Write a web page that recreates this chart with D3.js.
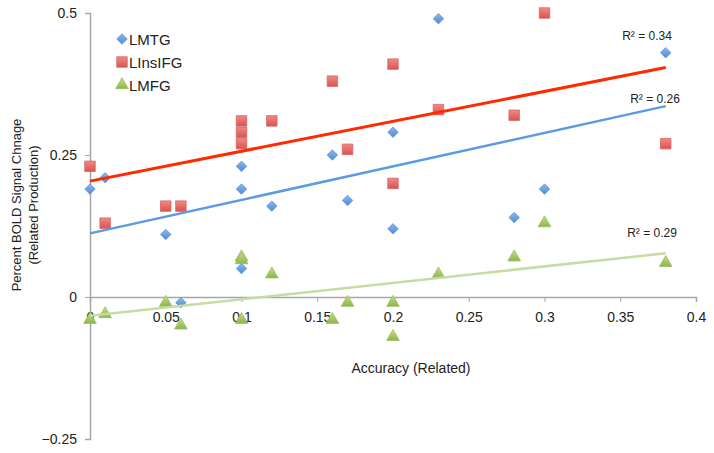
<!DOCTYPE html>
<html>
<head>
<meta charset="utf-8">
<script src="https://cdn.jsdelivr.net/npm/d3@7"></script>
<style>
  body { margin: 0; background: #fff; }
  svg { display: block; font-family: "Liberation Sans", Arial, sans-serif; }
</style>
</head>
<body>
<svg id="chart" width="714" height="453"></svg>
<script>
// ---- data ----
const seriesNames = ["LMTG", "LInsIFG", "LMFG"];
const lmtgX = [0, 0.01, 0.05, 0.06, 0.1, 0.1, 0.1, 0.12, 0.16, 0.17, 0.2, 0.2, 0.23, 0.28, 0.3, 0.38];
const lmtgY = [0.19, 0.21, 0.11, -0.01, 0.23, 0.19, 0.05, 0.16, 0.25, 0.17, 0.29, 0.12, 0.49, 0.14, 0.19, 0.43];
const linsX = [0, 0.01, 0.05, 0.06, 0.1, 0.1, 0.1, 0.12, 0.16, 0.17, 0.2, 0.2, 0.23, 0.28, 0.3, 0.38];
const linsY = [0.23, 0.13, 0.16, 0.16, 0.31, 0.29, 0.27, 0.31, 0.38, 0.26, 0.41, 0.20, 0.33, 0.32, 0.50, 0.27];
const lmfgX = [0, 0.01, 0.05, 0.06, 0.1, 0.1, 0.1, 0.12, 0.16, 0.17, 0.2, 0.2, 0.23, 0.28, 0.3, 0.38];
const lmfgY = [-0.04, -0.03, -0.01, -0.05, 0.07, 0.065, -0.04, 0.04, -0.04, -0.01, -0.01, -0.07, 0.04, 0.07, 0.13, 0.06];
// trendline endpoints (x from 0 to 0.38)
const trendX = [0, 0.38];
const trendLMTG = [0.112, 0.336];
const trendLIns = [0.204, 0.404];
const trendLMFG = [-0.033, 0.077];
const r2Labels = ["R² = 0.26", "R² = 0.34", "R² = 0.29"];
const xTicks = [0, 0.05, 0.1, 0.15, 0.2, 0.25, 0.3, 0.35, 0.4];
const yTicks = [-0.25, 0, 0.25, 0.5];

// ---- layout ----
const svg = d3.select("#chart");
const x = d3.scaleLinear().domain([0, 0.4]).range([90, 696]);
const y = d3.scaleLinear().domain([-0.25, 0.5]).range([439, 13]);

const axisColor = "#a6a6a6";

// x axis at y=0
const gx = svg.append("g").attr("transform", `translate(0,${y(0)})`)
  .call(d3.axisBottom(x).tickValues(xTicks).tickFormat(d3.format("")).tickSizeOuter(0).tickSize(5).tickPadding(10));
// y axis
const gy = svg.append("g").attr("transform", `translate(${x(0)},0)`)
  .call(d3.axisLeft(y).tickValues(yTicks).tickFormat(d3.format("")).tickSizeOuter(0).tickSize(5).tickPadding(8));
[gx, gy].forEach(g => {
  g.select(".domain").attr("stroke", axisColor).attr("stroke-width", 1.5);
  g.selectAll(".tick line").attr("stroke", axisColor);
  g.selectAll(".tick text").attr("fill", "#222").attr("font-size", 14)
    .attr("font-family", "Liberation Sans, Arial, sans-serif");
});

// defs gradients
const defs = svg.append("defs");
function grad(id, c1, c2) {
  const g = defs.append("linearGradient").attr("id", id).attr("x1", 0).attr("y1", 0).attr("x2", 0).attr("y2", 1);
  g.append("stop").attr("offset", "0%").attr("stop-color", c1);
  g.append("stop").attr("offset", "100%").attr("stop-color", c2);
}
grad("gBlue", "#8db8ec", "#4f8bd2");
grad("gRed", "#f08a87", "#d9534f");
grad("gGreen", "#c5de8c", "#8db54a");

const sym = {
  diamond: d3.symbol().type(d3.symbolDiamond2).size(70),
  square: d3.symbol().type(d3.symbolSquare).size(110),
  triangle: d3.symbol().type(d3.symbolTriangle).size(70)
};

// trendlines
const line = d3.line().x(d => x(d[0])).y(d => y(d[1]));
const trends = [
  { vals: trendLIns, color: "#ff2a00", w: 3 },
  { vals: trendLMTG, color: "#5b9be0", w: 2.5 },
  { vals: trendLMFG, color: "#c6dca4", w: 2.5 }
];

// points
function drawPoints(xs, ys, s, fill, stroke) {
  svg.append("g").selectAll("path").data(xs.map((v, i) => [v, ys[i]])).join("path")
    .attr("d", s)
    .attr("transform", d => `translate(${x(d[0])},${y(d[1])})`)
    .attr("fill", fill).attr("stroke", stroke).attr("stroke-width", 0.8);
}
drawPoints(lmfgX, lmfgY, sym.triangle, "url(#gGreen)", "#9dbf63");
drawPoints(linsX, linsY, sym.square, "url(#gRed)", "#d96562");
drawPoints(lmtgX, lmtgY, sym.diamond, "url(#gBlue)", "#5f95d6");

trends.forEach(t => {
  svg.append("path").datum(trendX.map((v, i) => [v, t.vals[i]]))
    .attr("d", line).attr("fill", "none").attr("stroke", t.color).attr("stroke-width", t.w);
});

// R² labels
const r2Pos = [[655, 103], [647, 40], [652, 237]];
r2Labels.forEach((t, i) => {
  svg.append("text").attr("x", r2Pos[i][0]).attr("y", r2Pos[i][1])
    .attr("text-anchor", "middle").attr("font-size", 12).attr("fill", "#222").text(t);
});

// legend
const legendSyms = [sym.diamond, sym.square, sym.triangle];
const legendFills = ["url(#gBlue)", "url(#gRed)", "url(#gGreen)"];
const legendStrokes = ["#5f95d6", "#d96562", "#9dbf63"];
seriesNames.forEach((n, i) => {
  const ly = 39 + i * 23;
  svg.append("path").attr("d", legendSyms[i]).attr("transform", `translate(122,${ly})`)
    .attr("fill", legendFills[i]).attr("stroke", legendStrokes[i]).attr("stroke-width", 0.8);
  svg.append("text").attr("x", 129).attr("y", ly + 5.5).attr("font-size", 15).attr("fill", "#222").text(n);
});

// axis titles
svg.append("text").attr("x", 411).attr("y", 373).attr("text-anchor", "middle")
  .attr("font-size", 14).attr("fill", "#222").text("Accuracy (Related)");
const yt = svg.append("text").attr("transform", "translate(21,205) rotate(-90)")
  .attr("text-anchor", "middle").attr("font-size", 13).attr("fill", "#222");
yt.append("tspan").attr("x", 0).attr("dy", 0).text("Percent BOLD Signal Chnage");
yt.append("tspan").attr("x", 0).attr("dy", 17).text("(Related Production)");
</script>
</body>
</html>
